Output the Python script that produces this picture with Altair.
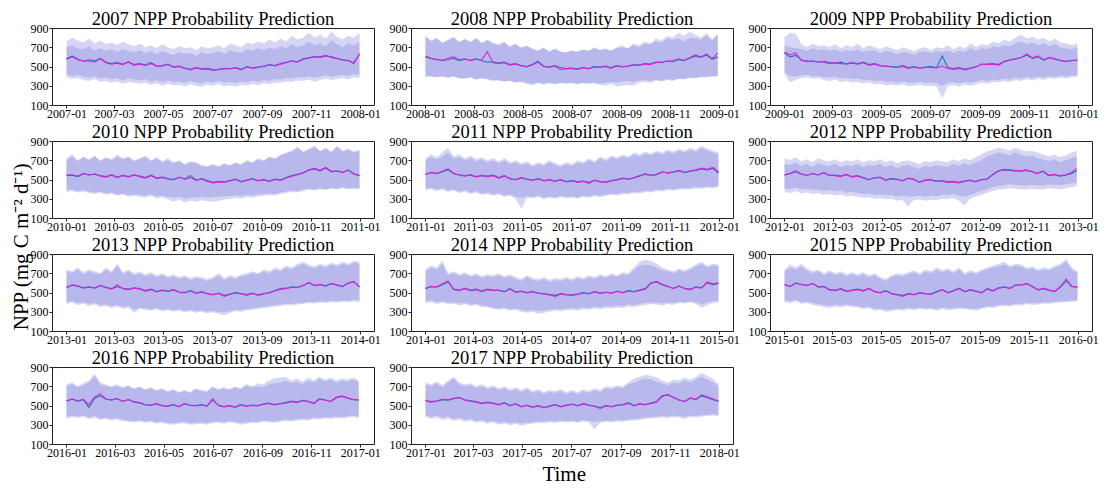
import altair as alt
import pandas as pd
from datetime import date, timedelta

FONT = "Liberation Serif"
YEARS = list(range(2007, 2018))
TICK_MONTHS = [1, 3, 5, 7, 9, 11]
Y_TICKS = [100, 300, 500, 700, 900]

# Weekly readings (Jan 1 + 7*i days) of each panel, in mg C m-2 d-1
OBS = {
    2007: [580, 610, 575, 555, 570, 560, 585, 545, 530, 540, 525, 545, 520,
           530, 515, 540, 505, 510, 525, 495, 505, 485, 470, 490, 475, 480,
           465, 470, 480, 475, 490, 470, 500, 485, 495, 505, 520, 510, 530,
           545, 560, 550, 580, 590, 605, 595, 610, 600, 585, 570, 560, 540, 625],
    2008: [600, 580, 575, 560, 570, 585, 560, 575, 565, 580, 560, 545, 550,
           535, 545, 520, 530, 510, 500, 520, 555, 505, 495, 510, 490, 480,
           485, 475, 490, 480, 500, 495, 505, 490, 510, 500, 505, 520, 515,
           530, 525, 545, 540, 560, 550, 570, 560, 585, 610, 595, 620, 575, 600],
    2009: [640, 600, 615, 570, 550, 560, 545, 555, 540, 535, 545, 525, 540,
           530, 545, 520, 530, 510, 505, 500, 495, 510, 490, 500, 485, 495,
           500, 490, 610, 490, 480, 490, 470, 485, 500, 520, 525, 530, 520,
           555, 570, 580, 590, 620, 585, 600, 565, 590, 575, 560, 550, 565, 560],
    2010: [540, 545, 530, 560, 550, 555, 540, 530, 545, 525, 540, 530, 545,
           535, 520, 545, 515, 525, 510, 500, 520, 505, 540, 495, 510, 490,
           470, 480, 475, 490, 505, 480, 495, 510, 490, 500, 485, 505, 495,
           520, 540, 555, 570, 600, 610, 590, 620, 580, 590, 575, 600, 560, 545],
    2011: [555, 570, 560, 580, 600, 560, 550, 540, 545, 530, 540, 535, 545,
           520, 540, 510, 500, 520, 505, 495, 510, 490, 500, 485, 500, 480,
           490, 475, 485, 470, 495, 480, 475, 490, 500, 515, 505, 520, 540,
           560, 545, 555, 580, 565, 575, 590, 570, 585, 595, 610, 600, 615, 565],
    2012: [545, 560, 580, 555, 545, 560, 550, 570, 540, 545, 535, 550, 530,
           540, 520, 500, 515, 525, 495, 510, 505, 490, 515, 500, 475, 495,
           500, 485, 490, 475, 480, 470, 485, 495, 480, 500, 505, 550, 590,
           600, 595, 590, 585, 595, 580, 560, 585, 540, 550, 535, 545, 560, 590],
    2013: [550, 575, 565, 550, 560, 545, 570, 555, 540, 560, 545, 535, 550,
           540, 520, 535, 510, 525, 515, 530, 505, 500, 520, 495, 510, 490,
           480, 495, 470, 485, 500, 490, 480, 495, 475, 490, 500, 520, 540,
           545, 560, 555, 575, 600, 570, 580, 565, 590, 575, 560, 600, 610, 560],
    2014: [540, 560, 555, 580, 610, 535, 525, 540, 520, 530, 515, 535, 520,
           525, 510, 540, 505, 515, 500, 510, 495, 490, 480, 470, 490, 480,
           475, 485, 500, 490, 510, 495, 505, 490, 515, 500, 520, 510, 525,
           540, 600, 610, 580, 560, 545, 570, 540, 530, 560, 550, 600, 580, 595],
    2015: [580, 560, 600, 580, 575, 590, 560, 565, 530, 520, 540, 515, 525,
           535, 520, 540, 510, 500, 520, 490, 480, 470, 490, 480, 500, 490,
           485, 510, 530, 500, 520, 545, 510, 530, 515, 500, 540, 520, 550,
           560, 545, 580, 575, 590, 565, 530, 540, 520, 510, 560, 620, 560, 555],
    2016: [550, 565, 545, 560, 480, 575, 600, 565, 560, 570, 545, 560, 540,
           530, 510, 505, 520, 500, 495, 510, 490, 520, 505, 500, 510, 495,
           555, 505, 490, 500, 485, 510, 495, 505, 500, 515, 525, 510, 520,
           530, 545, 535, 555, 540, 525, 570, 560, 540, 580, 595, 575, 560, 555],
    2017: [550, 535, 545, 560, 555, 570, 580, 560, 550, 540, 520, 535, 525,
           510, 530, 500, 520, 490, 505, 485, 500, 480, 495, 510, 490, 505,
           515, 500, 520, 505, 495, 480, 500, 490, 505, 510, 530, 500, 520,
           510, 525, 540, 600, 610, 580, 560, 540, 575, 560, 600, 580, 560, 545],
}

PRED = {
    2007: [575, 600, 570, 560, 555, 545, 580, 540, 525, 535, 520, 550, 515,
           525, 510, 530, 500, 505, 520, 490, 500, 480, 465, 485, 470, 475,
           460, 470, 475, 480, 485, 465, 495, 480, 490, 500, 515, 505, 525,
           540, 555, 545, 575, 585, 600, 600, 615, 595, 580, 565, 565, 530, 635],
    2008: [610, 585, 570, 565, 585, 600, 570, 580, 560, 575, 565, 655, 540,
           530, 540, 515, 525, 505, 495, 515, 545, 500, 490, 505, 470, 475,
           480, 470, 485, 475, 495, 490, 500, 480, 505, 495, 500, 515, 510,
           525, 520, 540, 545, 555, 560, 580, 565, 590, 620, 600, 630, 580, 640],
    2009: [650, 620, 640, 560, 560, 550, 550, 545, 530, 540, 530, 530, 535,
           525, 540, 510, 525, 505, 500, 495, 490, 500, 480, 495, 480, 490,
           490, 485, 505, 480, 470, 480, 465, 480, 495, 525, 520, 525, 515,
           550, 565, 575, 595, 630, 590, 610, 570, 595, 580, 565, 555, 560, 570],
    2010: [545, 550, 535, 565, 545, 560, 535, 525, 550, 520, 545, 525, 550,
           530, 515, 540, 510, 520, 505, 495, 525, 500, 520, 490, 505, 480,
           465, 475, 470, 485, 500, 475, 490, 505, 485, 495, 480, 500, 490,
           515, 535, 550, 565, 595, 615, 595, 625, 585, 585, 570, 595, 555, 540],
    2011: [550, 575, 565, 585, 610, 565, 545, 535, 550, 525, 545, 530, 540,
           515, 535, 505, 495, 515, 500, 490, 505, 485, 495, 480, 495, 475,
           485, 470, 480, 460, 490, 475, 470, 485, 495, 510, 500, 515, 535,
           555, 540, 550, 575, 570, 580, 595, 575, 590, 600, 620, 605, 625, 580],
    2012: [550, 565, 590, 560, 540, 565, 545, 575, 545, 540, 530, 555, 525,
           535, 515, 495, 520, 520, 490, 505, 500, 485, 510, 505, 470, 490,
           495, 480, 485, 470, 475, 465, 480, 490, 475, 495, 500, 545, 585,
           605, 600, 595, 590, 600, 585, 565, 590, 545, 555, 540, 550, 570, 615],
    2013: [555, 580, 570, 545, 555, 550, 575, 550, 535, 580, 540, 530, 545,
           535, 515, 530, 505, 520, 510, 525, 500, 495, 515, 490, 505, 485,
           475, 490, 460, 480, 495, 485, 470, 490, 470, 485, 495, 515, 535,
           540, 555, 550, 570, 605, 575, 585, 570, 595, 580, 565, 595, 615, 555],
    2014: [545, 565, 560, 590, 620, 530, 520, 545, 525, 535, 510, 530, 525,
           520, 505, 535, 500, 510, 495, 505, 490, 485, 475, 460, 485, 475,
           470, 480, 495, 485, 505, 490, 500, 495, 510, 495, 515, 505, 520,
           535, 595, 615, 585, 565, 540, 565, 545, 535, 555, 545, 610, 590, 600],
    2015: [585, 565, 595, 585, 570, 595, 555, 560, 525, 525, 535, 510, 520,
           530, 515, 545, 505, 495, 515, 485, 475, 460, 485, 475, 495, 485,
           480, 505, 525, 495, 515, 540, 505, 525, 510, 495, 535, 515, 545,
           555, 540, 575, 580, 595, 560, 525, 545, 525, 515, 565, 640, 565, 560],
    2016: [545, 570, 550, 565, 510, 590, 620, 570, 555, 575, 540, 565, 535,
           525, 505, 500, 515, 495, 490, 505, 485, 515, 500, 495, 505, 490,
           570, 500, 485, 495, 480, 505, 490, 500, 495, 510, 520, 505, 515,
           525, 540, 530, 550, 545, 520, 565, 555, 545, 585, 600, 580, 565, 560],
    2017: [555, 540, 550, 565, 560, 575, 585, 555, 545, 535, 525, 530, 520,
           505, 525, 495, 515, 485, 500, 480, 495, 475, 490, 505, 485, 500,
           510, 495, 515, 500, 490, 470, 495, 485, 500, 505, 520, 495, 515,
           505, 520, 535, 595, 615, 585, 555, 545, 580, 565, 610, 590, 570, 545],
}

# Interval 1 (upper / lower)
HI1 = {
    2007: [760, 800, 770, 750, 790, 740, 770, 730, 750, 720, 760, 730, 710,
           740, 700, 720, 690, 730, 700, 680, 710, 690, 700, 670, 710, 690,
           700, 720, 690, 740, 720, 700, 750, 730, 760, 740, 780, 750, 790,
           760, 820, 780, 800, 850, 800, 830, 790, 860, 810, 780, 820, 800, 850],
    2008: [820, 760, 800, 740, 780, 810, 750, 790, 760, 800, 740, 780, 750,
           720, 760, 700, 740, 690, 720, 680, 660, 700, 650, 690, 660, 640,
           670, 650, 680, 660, 700, 670, 690, 660, 700, 720, 690, 740, 720,
           760, 740, 790, 770, 820, 800, 850, 820, 860, 830, 800, 850, 780, 840],
    2009: [800, 850, 840, 730, 700, 740, 710, 720, 700, 730, 690, 720, 700,
           740, 690, 720, 700, 680, 710, 690, 670, 700, 680, 660, 690, 700,
           670, 700, 690, 720, 680, 710, 690, 740, 700, 730, 720, 760, 740,
           780, 760, 800, 830, 790, 810, 780, 800, 760, 790, 750, 740, 720, 740],
    2010: [720, 760, 700, 740, 710, 750, 700, 730, 710, 760, 720, 740, 700,
           720, 750, 700, 730, 690, 720, 680, 700, 660, 690, 680, 650, 640,
           660, 640, 670, 650, 680, 660, 700, 680, 720, 700, 740, 720, 760,
           780, 800, 840, 790, 820, 850, 800, 830, 790, 850, 800, 820, 790, 810],
    2011: [720, 760, 730, 780, 830, 740, 760, 720, 750, 710, 730, 700, 720,
           690, 720, 680, 700, 670, 690, 650, 680, 660, 700, 670, 650, 680,
           660, 700, 680, 720, 690, 740, 710, 750, 730, 760, 740, 780, 760,
           790, 770, 800, 780, 810, 790, 820, 800, 830, 810, 850, 820, 800, 780],
    2012: [720, 700, 730, 690, 710, 680, 720, 700, 690, 710, 680, 700, 690,
           710, 680, 700, 690, 710, 680, 700, 670, 690, 700, 680, 660, 690,
           680, 700, 690, 680, 710, 690, 720, 700, 730, 760, 790, 810, 830,
           820, 800, 830, 810, 790, 800, 780, 760, 740, 760, 730, 750, 780, 800],
    2013: [740, 720, 760, 710, 740, 720, 700, 760, 720, 800, 710, 740, 700,
           720, 690, 710, 680, 700, 670, 690, 660, 680, 650, 670, 660, 640,
           660, 700, 650, 680, 660, 690, 700, 720, 700, 740, 720, 760, 740,
           780, 760, 800, 820, 790, 770, 800, 780, 810, 790, 820, 800, 830, 820],
    2014: [740, 780, 760, 830, 700, 720, 690, 710, 680, 700, 670, 690, 680,
           700, 670, 690, 660, 640, 680, 650, 640, 660, 630, 650, 640, 660,
           640, 670, 650, 680, 660, 690, 670, 700, 680, 710, 700, 760, 820,
           840, 830, 800, 760, 740, 720, 750, 730, 760, 790, 820, 780, 800, 790],
    2015: [740, 790, 760, 800, 750, 720, 740, 700, 730, 700, 720, 690, 710,
           690, 710, 680, 700, 660, 640, 680, 700, 690, 710, 730, 700, 740,
           720, 760, 730, 750, 720, 760, 700, 730, 710, 740, 760, 780, 800,
           820, 780, 800, 790, 760, 770, 740, 760, 750, 780, 800, 850, 760, 720],
    2016: [720, 740, 700, 730, 760, 830, 740, 720, 700, 720, 690, 710, 680,
           700, 670, 690, 660, 680, 650, 670, 640, 660, 640, 680, 660, 650,
           700, 670, 690, 670, 700, 680, 720, 700, 730, 720, 760, 780, 790,
           800, 760, 780, 750, 790, 760, 800, 770, 790, 760, 780, 770, 790, 760],
    2017: [740, 720, 750, 710, 760, 800, 740, 720, 730, 700, 720, 690, 710,
           680, 700, 670, 690, 660, 690, 650, 670, 640, 660, 650, 670, 640,
           660, 640, 670, 650, 680, 660, 700, 690, 710, 700, 740, 780, 800,
           820, 810, 790, 760, 740, 770, 760, 790, 770, 800, 840, 810, 780, 720],
}

LO1 = {
    2007: [390, 370, 380, 360, 350, 370, 340, 350, 330, 345, 320, 340, 330,
           320, 335, 310, 325, 300, 320, 305, 310, 295, 315, 300, 290, 310,
           300, 315, 295, 305, 290, 310, 300, 320, 305, 325, 315, 335, 330,
           345, 340, 355, 350, 365, 345, 360, 375, 360, 370, 380, 365, 390, 380],
    2008: [390, 400, 385, 395, 380, 400, 375, 370, 390, 360, 380, 365, 350,
           360, 340, 355, 330, 345, 320, 300, 335, 310, 325, 315, 330, 320,
           325, 315, 330, 320, 325, 310, 300, 320, 295, 300, 310, 300, 330,
           340, 330, 355, 345, 360, 350, 370, 365, 380, 375, 390, 385, 400, 395],
    2009: [420, 340, 360, 380, 390, 370, 380, 360, 350, 365, 340, 350, 335,
           340, 325, 335, 315, 320, 305, 310, 300, 315, 295, 300, 310, 295,
           300, 290, 170, 295, 305, 290, 310, 300, 315, 330, 320, 340, 335,
           350, 340, 360, 350, 370, 355, 375, 360, 380, 370, 385, 375, 390, 395],
    2010: [370, 380, 365, 375, 360, 350, 365, 340, 355, 330, 345, 320, 335,
           320, 310, 330, 300, 315, 295, 270, 290, 260, 280, 270, 285, 275,
           270, 280, 290, 300, 310, 300, 320, 310, 325, 330, 340, 335, 350,
           360, 370, 365, 380, 395, 385, 400, 390, 405, 395, 410, 400, 405, 400],
    2011: [390, 400, 380, 395, 370, 385, 360, 375, 350, 365, 340, 350, 330,
           345, 320, 330, 300, 200, 310, 305, 320, 295, 310, 300, 315, 305,
           310, 300, 320, 310, 325, 315, 330, 340, 335, 350, 345, 360, 355,
           370, 365, 380, 375, 390, 385, 395, 400, 395, 410, 405, 415, 410, 420],
    2012: [370, 360, 380, 355, 365, 350, 360, 340, 350, 335, 345, 325, 330,
           320, 310, 315, 300, 305, 295, 300, 280, 290, 220, 285, 295, 280,
           290, 285, 300, 295, 310, 280, 230, 300, 320, 340, 360, 380, 395,
           400, 410, 405, 400, 395, 405, 400, 395, 410, 405, 400, 410, 420, 430],
    2013: [380, 395, 370, 385, 360, 375, 350, 360, 340, 355, 330, 345, 290,
           330, 320, 310, 325, 305, 315, 300, 310, 295, 305, 290, 300, 285,
           295, 280, 260, 290, 305, 300, 315, 320, 330, 340, 345, 355, 360,
           370, 365, 375, 380, 390, 385, 395, 390, 400, 395, 405, 400, 410, 400],
    2014: [390, 400, 380, 395, 375, 385, 365, 380, 360, 370, 350, 345, 330,
           320, 330, 310, 320, 300, 290, 300, 280, 290, 300, 310, 305, 315,
           320, 310, 325, 320, 335, 325, 340, 335, 345, 340, 355, 350, 360,
           370, 380, 375, 365, 380, 370, 390, 385, 395, 380, 340, 370, 390, 400],
    2015: [400, 390, 410, 380, 390, 370, 360, 350, 340, 355, 345, 360, 350,
           345, 330, 340, 310, 320, 300, 305, 320, 310, 325, 315, 330, 320,
           325, 310, 330, 315, 320, 330, 325, 320, 310, 330, 345, 340, 355,
           360, 355, 370, 365, 380, 370, 375, 385, 380, 390, 395, 400, 405, 410],
    2016: [360, 380, 370, 385, 360, 375, 350, 360, 345, 355, 340, 330, 325,
           335, 320, 330, 310, 320, 305, 300, 310, 315, 300, 305, 310, 300,
           315, 320, 310, 325, 315, 300, 310, 320, 315, 330, 325, 320, 330,
           340, 335, 345, 350, 345, 360, 355, 365, 360, 370, 365, 375, 380, 370],
    2017: [380, 360, 375, 350, 365, 340, 355, 330, 345, 320, 335, 310, 325,
           300, 315, 295, 310, 290, 305, 310, 320, 315, 325, 320, 330, 325,
           330, 320, 335, 325, 250, 320, 330, 325, 335, 330, 340, 345, 350,
           360, 365, 370, 375, 370, 380, 375, 360, 380, 375, 385, 390, 395, 390],
}

# Interval 2 (upper / lower)
HI2 = {
    2007: [700, 720, 690, 680, 710, 670, 690, 660, 680, 650, 680, 660, 650,
           670, 640, 660, 630, 660, 640, 620, 650, 630, 640, 610, 650, 630,
           640, 660, 630, 670, 650, 640, 680, 660, 690, 670, 700, 680, 710,
           690, 730, 700, 720, 760, 720, 740, 710, 770, 730, 700, 740, 720, 760],
    2008: [810, 770, 790, 750, 770, 800, 760, 780, 750, 790, 750, 770, 740,
           730, 750, 710, 730, 700, 710, 690, 670, 690, 660, 680, 650, 650,
           660, 655, 670, 665, 690, 675, 680, 670, 690, 700, 690, 720, 700,
           740, 730, 760, 750, 790, 780, 790, 760, 800, 790, 780, 820, 770, 830],
    2009: [720, 700, 690, 680, 660, 690, 670, 680, 660, 680, 650, 670, 660,
           680, 650, 670, 660, 640, 660, 650, 630, 650, 640, 625, 650, 660,
           640, 660, 650, 670, 640, 660, 650, 690, 660, 690, 680, 710, 700,
           720, 710, 740, 760, 730, 750, 720, 740, 710, 730, 700, 690, 680, 700],
    2010: [700, 740, 690, 730, 700, 740, 690, 720, 700, 740, 710, 730, 690,
           710, 730, 690, 720, 680, 700, 670, 690, 650, 680, 670, 640, 630,
           650, 630, 660, 640, 670, 650, 690, 670, 710, 690, 730, 710, 750,
           770, 790, 830, 780, 810, 840, 790, 820, 780, 840, 790, 810, 780, 800],
    2011: [700, 730, 710, 740, 780, 720, 730, 700, 720, 690, 710, 680, 700,
           670, 700, 660, 680, 650, 670, 630, 660, 640, 680, 650, 630, 660,
           640, 680, 660, 700, 670, 720, 690, 730, 710, 740, 720, 760, 740,
           770, 750, 780, 760, 790, 770, 800, 780, 810, 790, 830, 800, 780, 760],
    2012: [660, 650, 680, 640, 660, 630, 670, 650, 640, 660, 630, 650, 640,
           660, 630, 650, 640, 660, 630, 650, 620, 640, 650, 630, 610, 640,
           630, 650, 640, 630, 660, 640, 670, 650, 680, 700, 740, 760, 780,
           770, 750, 780, 760, 740, 750, 720, 710, 690, 710, 680, 700, 720, 740],
    2013: [720, 700, 740, 690, 720, 700, 690, 740, 700, 780, 690, 720, 680,
           700, 670, 690, 660, 680, 650, 670, 640, 660, 630, 650, 640, 620,
           640, 680, 630, 660, 640, 670, 680, 700, 690, 720, 700, 740, 720,
           760, 740, 780, 800, 770, 750, 780, 760, 790, 770, 800, 780, 810, 800],
    2014: [720, 760, 740, 800, 680, 700, 670, 690, 660, 680, 650, 670, 660,
           680, 650, 670, 640, 620, 660, 630, 620, 640, 610, 630, 620, 640,
           620, 650, 630, 660, 640, 670, 650, 680, 660, 690, 680, 730, 780,
           790, 780, 760, 730, 720, 700, 730, 710, 740, 770, 800, 760, 780, 770],
    2015: [720, 760, 740, 770, 730, 700, 720, 680, 710, 680, 700, 670, 690,
           670, 690, 660, 680, 640, 620, 660, 680, 670, 690, 710, 680, 720,
           700, 740, 710, 730, 700, 740, 680, 710, 690, 720, 740, 760, 770,
           790, 760, 780, 770, 740, 750, 720, 740, 730, 760, 780, 820, 740, 700],
    2016: [700, 720, 690, 710, 740, 810, 720, 700, 690, 700, 680, 700, 670,
           690, 660, 680, 650, 670, 640, 660, 630, 650, 630, 670, 650, 640,
           690, 660, 680, 660, 690, 670, 710, 690, 700, 690, 720, 730, 740,
           760, 730, 750, 720, 760, 740, 780, 750, 770, 740, 760, 750, 770, 740],
    2017: [720, 700, 730, 690, 740, 780, 720, 700, 710, 680, 700, 670, 690,
           660, 680, 650, 670, 640, 670, 630, 650, 620, 640, 630, 650, 620,
           640, 620, 650, 630, 660, 640, 680, 670, 690, 680, 720, 740, 760,
           780, 770, 750, 730, 710, 740, 730, 760, 740, 770, 800, 770, 740, 700],
}

LO2 = {
    2007: [420, 400, 410, 395, 385, 400, 375, 385, 365, 380, 355, 375, 365,
           355, 370, 345, 360, 335, 355, 340, 345, 330, 350, 335, 325, 345,
           335, 350, 330, 340, 325, 345, 335, 355, 340, 360, 350, 370, 365,
           380, 375, 390, 385, 400, 380, 395, 410, 395, 405, 415, 400, 425, 415],
    2008: [400, 395, 390, 400, 385, 395, 380, 380, 385, 370, 375, 370, 360,
           355, 350, 350, 340, 340, 330, 320, 330, 320, 330, 320, 325, 325,
           330, 320, 325, 325, 330, 320, 330, 340, 335, 345, 350, 340, 355,
           360, 350, 365, 355, 370, 360, 375, 370, 385, 380, 395, 390, 400, 400],
    2009: [440, 400, 400, 410, 415, 400, 405, 390, 385, 395, 375, 385, 370,
           375, 360, 365, 350, 355, 340, 345, 335, 345, 330, 335, 340, 330,
           335, 325, 300, 330, 335, 325, 340, 335, 345, 360, 350, 365, 360,
           375, 365, 385, 375, 390, 380, 395, 385, 400, 390, 405, 395, 405, 410],
    2010: [390, 395, 380, 390, 375, 365, 375, 355, 365, 345, 355, 340, 345,
           340, 330, 345, 325, 330, 320, 310, 320, 300, 315, 310, 320, 310,
           315, 320, 325, 330, 335, 330, 340, 335, 345, 350, 355, 350, 365,
           375, 385, 380, 395, 405, 395, 410, 400, 415, 405, 420, 410, 415, 410],
    2011: [405, 415, 395, 410, 385, 400, 375, 390, 365, 380, 355, 365, 345,
           360, 335, 345, 320, 310, 325, 320, 335, 310, 325, 315, 330, 320,
           325, 315, 335, 325, 340, 330, 345, 355, 350, 365, 360, 375, 370,
           385, 380, 395, 390, 405, 400, 410, 415, 410, 425, 420, 430, 425, 435],
    2012: [410, 400, 420, 395, 405, 390, 400, 380, 390, 375, 385, 365, 370,
           360, 350, 355, 340, 345, 335, 340, 320, 330, 320, 325, 335, 320,
           330, 325, 340, 335, 350, 330, 320, 340, 360, 380, 400, 420, 430,
           440, 450, 445, 440, 435, 445, 440, 435, 450, 445, 440, 450, 460, 470],
    2013: [400, 410, 390, 400, 380, 390, 370, 375, 360, 370, 350, 360, 320,
           345, 335, 325, 340, 320, 330, 315, 325, 310, 320, 305, 315, 300,
           310, 300, 295, 305, 320, 315, 330, 335, 345, 355, 360, 370, 375,
           385, 380, 390, 395, 405, 400, 410, 405, 415, 410, 420, 415, 425, 420],
    2014: [410, 420, 400, 410, 395, 400, 385, 395, 375, 385, 365, 360, 345,
           335, 345, 325, 335, 320, 310, 320, 305, 315, 320, 330, 325, 335,
           340, 330, 345, 340, 355, 345, 360, 355, 365, 360, 375, 370, 380,
           390, 400, 395, 385, 400, 390, 405, 400, 410, 400, 380, 395, 410, 415],
    2015: [420, 410, 425, 400, 405, 390, 380, 370, 360, 375, 365, 375, 365,
           360, 345, 355, 330, 335, 320, 325, 335, 330, 340, 330, 345, 335,
           340, 330, 345, 335, 340, 345, 340, 335, 330, 345, 360, 355, 370,
           375, 370, 385, 380, 395, 385, 390, 400, 395, 405, 410, 415, 420, 425],
    2016: [380, 395, 385, 400, 375, 390, 365, 375, 360, 370, 355, 345, 340,
           350, 335, 345, 325, 335, 320, 315, 325, 330, 315, 320, 325, 315,
           330, 335, 325, 340, 330, 320, 325, 335, 330, 345, 340, 335, 345,
           355, 350, 360, 365, 360, 375, 370, 380, 375, 385, 380, 390, 395, 385],
    2017: [400, 380, 395, 370, 385, 360, 375, 350, 360, 340, 350, 330, 340,
           320, 330, 315, 325, 310, 320, 325, 335, 330, 340, 335, 345, 340,
           345, 335, 350, 340, 330, 335, 345, 340, 350, 345, 355, 360, 365,
           375, 380, 385, 390, 385, 395, 390, 380, 395, 390, 400, 405, 410, 405],
}

BAND_COLOR = "#6b6bd6"
BAND_OPACITY = 0.28
OBS_COLOR = "#1f77b4"
PRED_COLOR = "#dd22dd"
FRAME = "#222222"


def week_dates(year, n):
    d0 = date(year, 1, 1)
    return [(d0 + timedelta(days=7 * i)).isoformat() for i in range(n)]


def line_df(year, values):
    return pd.DataFrame({"date": week_dates(year, len(values)), "v": values})


def band_df(year, hi, lo):
    n = min(len(hi), len(lo))
    return pd.DataFrame({"date": week_dates(year, n), "hi": hi[:n], "lo": lo[:n]})


def panel(year):
    x = alt.X(
        "date:T",
        scale=alt.Scale(
            type="utc",
            domain=[alt.DateTime(year=year - 1, month=12, date=14, utc=True),
                    alt.DateTime(year=year + 1, month=1, date=18, utc=True)],
        ),
        axis=alt.Axis(
            values=[alt.DateTime(year=year, month=m, date=1, utc=True) for m in TICK_MONTHS]
            + [alt.DateTime(year=year + 1, month=1, date=1, utc=True)],
            format="%Y-%m", title=None, grid=False, labelFlush=False,
            labelOverlap=False, domain=False, tickSize=3, labelPadding=0,
            labelFont=FONT, labelFontSize=12, labelColor="black", tickColor=FRAME,
        ),
    )
    yscale = alt.Scale(domain=[100, 900], nice=False, zero=False)
    yaxis = alt.Axis(values=Y_TICKS, title=None, grid=False, domain=False,
                     tickSize=3, labelPadding=1, labelOverlap=False,
                     labelFont=FONT, labelFontSize=12, labelColor="black",
                     tickColor=FRAME)

    b1 = alt.Chart(band_df(year, HI1[year], LO1[year])).mark_area(
        color=BAND_COLOR, opacity=BAND_OPACITY, clip=True
    ).encode(x=x, y=alt.Y("lo:Q", scale=yscale, axis=yaxis), y2="hi:Q")
    b2 = alt.Chart(band_df(year, HI2[year], LO2[year])).mark_area(
        color=BAND_COLOR, opacity=BAND_OPACITY, clip=True
    ).encode(x=x, y=alt.Y("lo:Q", scale=yscale, axis=yaxis), y2="hi:Q")
    l1 = alt.Chart(line_df(year, OBS[year])).mark_line(
        color=OBS_COLOR, strokeWidth=1.1, clip=True
    ).encode(x=x, y=alt.Y("v:Q", scale=yscale, axis=yaxis))
    l2 = alt.Chart(line_df(year, PRED[year])).mark_line(
        color=PRED_COLOR, strokeWidth=1.1, clip=True
    ).encode(x=x, y=alt.Y("v:Q", scale=yscale, axis=yaxis))

    return alt.layer(b1, b2, l1, l2).properties(
        width=322, height=77,
        title=alt.TitleParams(
            text=f"{year} NPP Probability Prediction", font=FONT, fontSize=18.5,
            fontWeight="normal", color="black", anchor="middle", offset=-6,
        ),
    )


grid = alt.concat(
    *[panel(y) for y in YEARS],
    columns=3,
    spacing={"row": 36, "column": 37},
    bounds="flush",
    title=alt.TitleParams(
        text="Time", orient="bottom", anchor="middle", font=FONT, fontSize=21,
        fontWeight="normal", color="black", offset=5,
    ),
)

chart = alt.hconcat(
    grid,
    title=alt.TitleParams(
        text="NPP (mg C m\u207b\u00b2 d\u207b\u00b9)", orient="left", anchor="middle",
        font=FONT, fontSize=21, fontWeight="normal", color="black", offset=-2,
    ),
).properties(
    padding={"left": 2, "top": 1, "right": 5, "bottom": 2}
).configure_view(
    stroke=FRAME, strokeWidth=1
)

chart.save("out.html", embed_options={"renderer": "svg", "actions": False})
